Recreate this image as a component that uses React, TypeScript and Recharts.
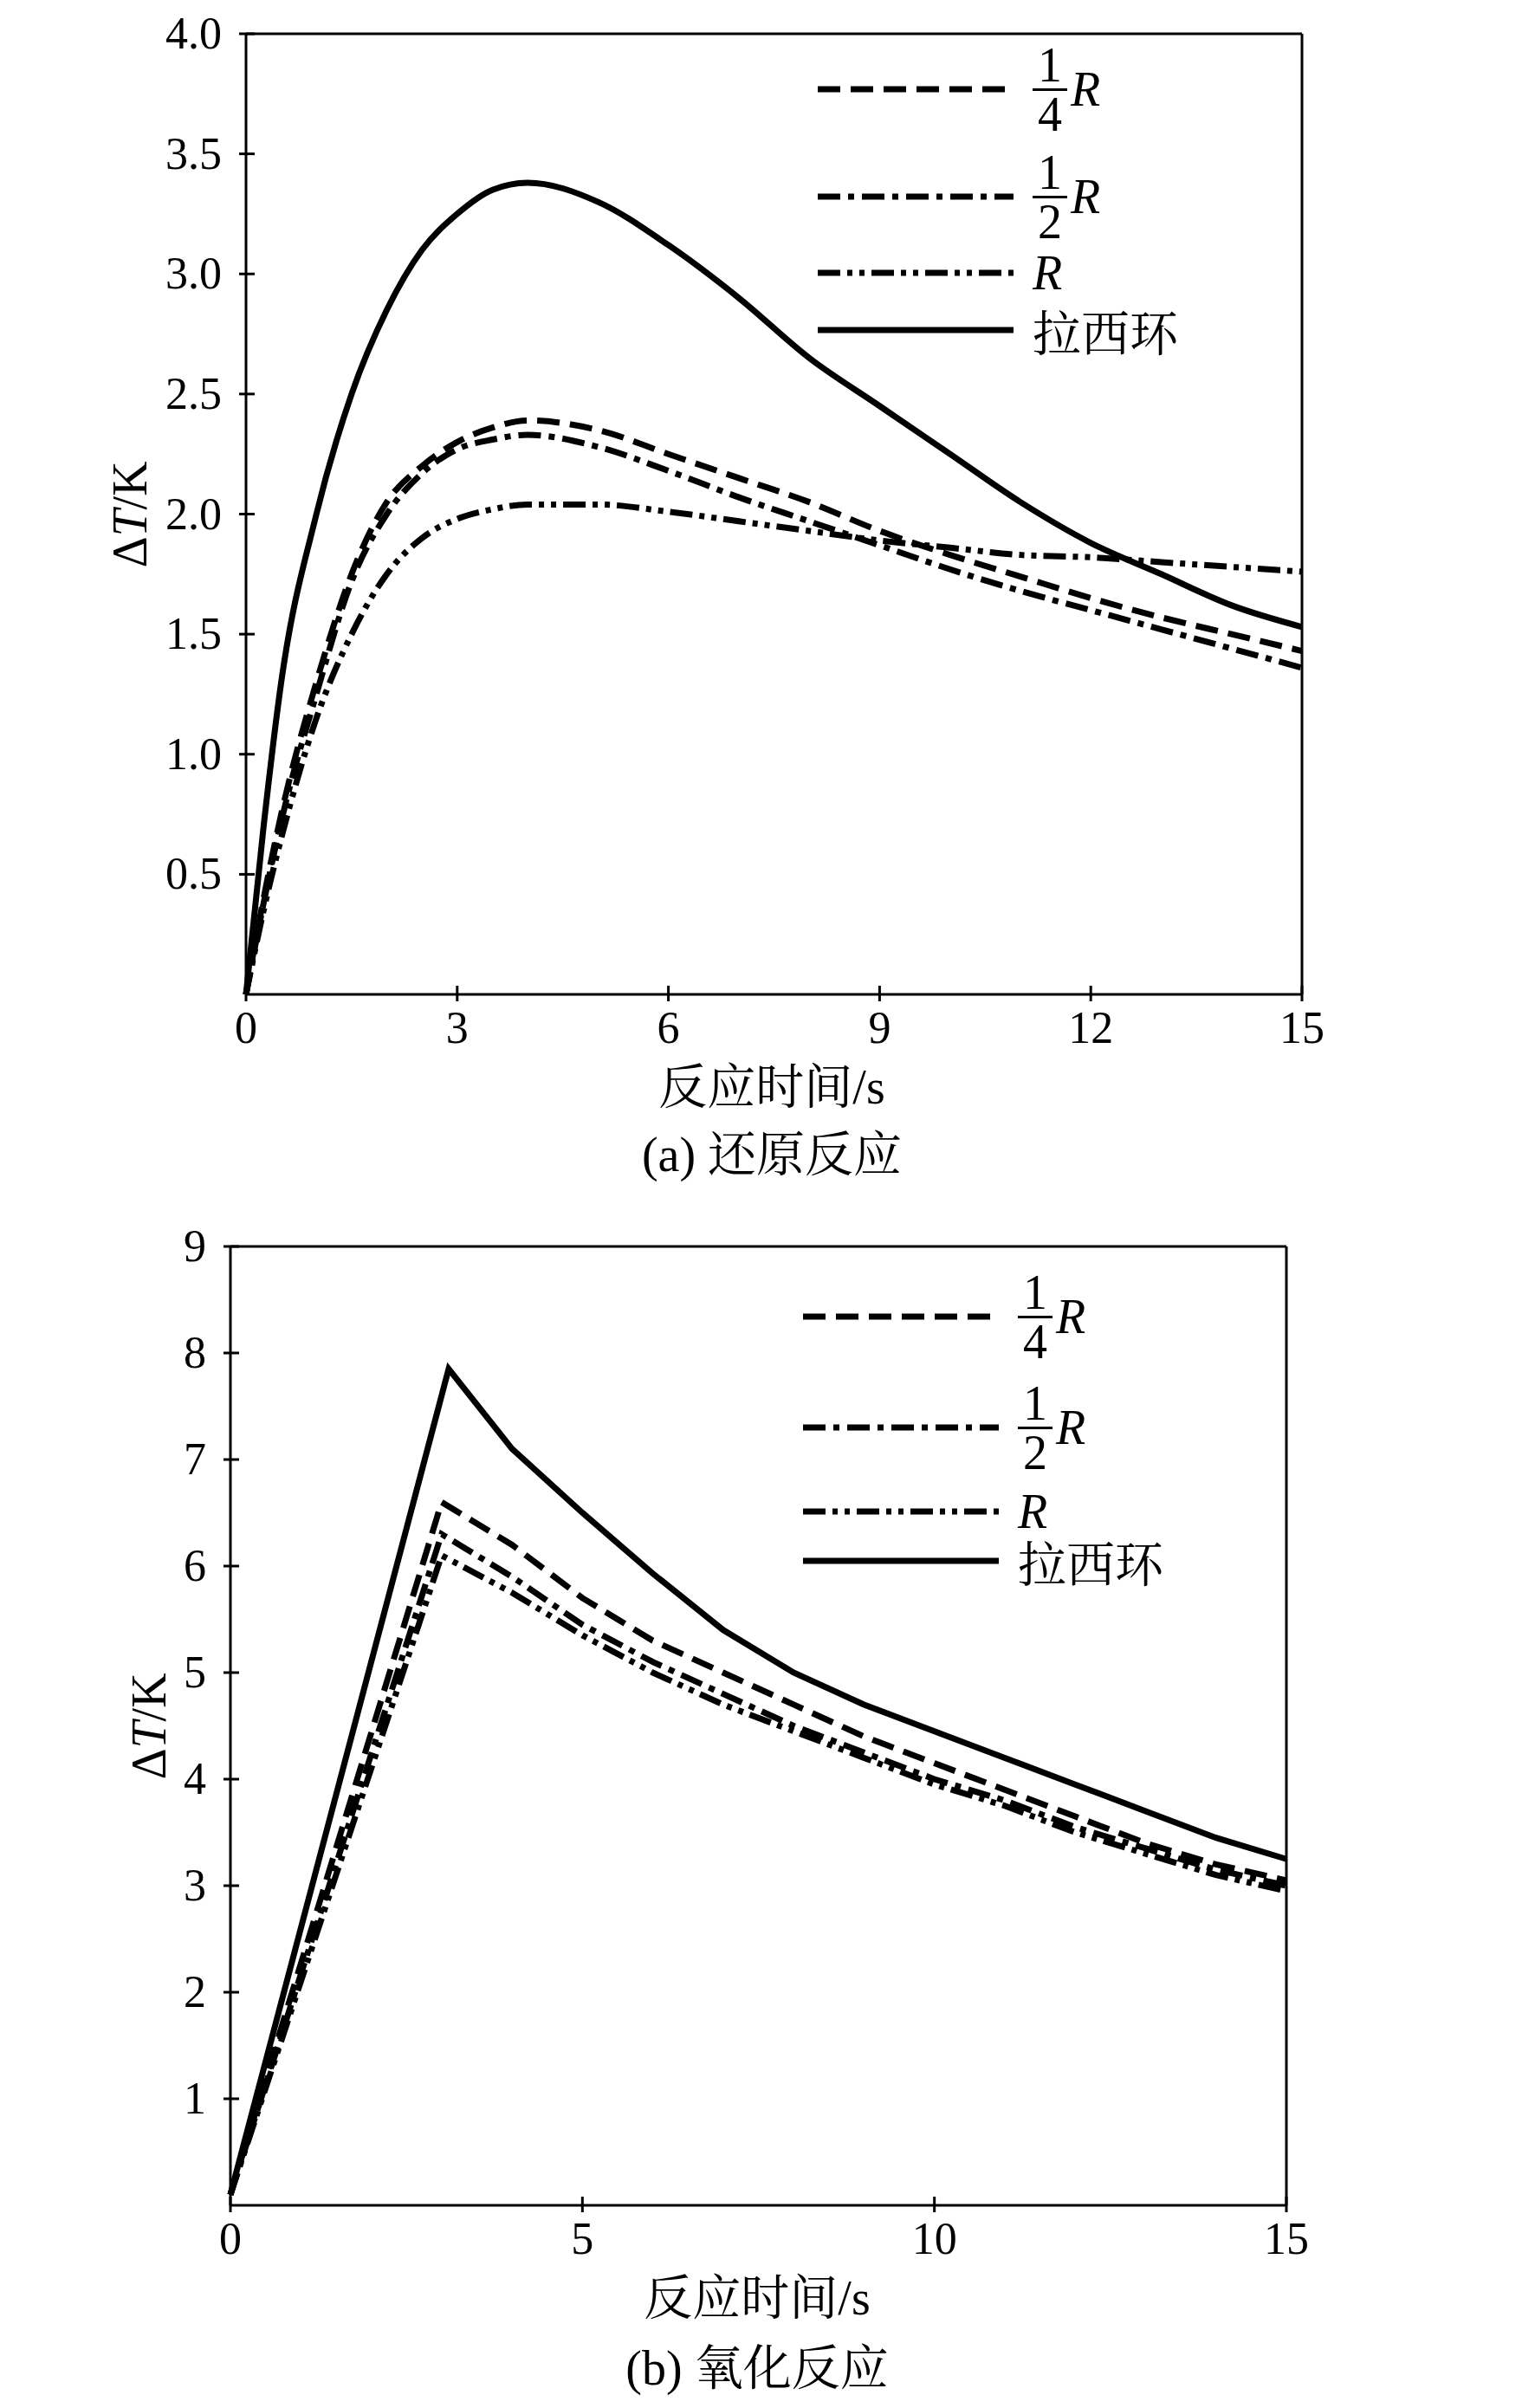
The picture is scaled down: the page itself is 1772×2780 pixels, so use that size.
import React from "react";
import { LineChart, Line, XAxis, YAxis } from "recharts";

const FONT = "'Liberation Serif', 'Times New Roman', serif";
const CJK = "'Liberation Serif', 'Noto Serif CJK SC', 'Noto Sans CJK SC', serif";

// (a) reduction
const xA = [0, 0.25, 0.5, 1, 1.5, 2, 2.5, 3, 3.5, 4, 5, 6, 7, 8, 9, 10, 11, 12, 13, 14, 15];
const aRaschig = [0, 0.7, 1.3, 2.0, 2.5, 2.85, 3.1, 3.25, 3.35, 3.38, 3.3, 3.12, 2.9, 2.65, 2.45, 2.25, 2.05, 1.88, 1.75, 1.62, 1.53];
const aQuarter = [0, 0.4, 0.75, 1.3, 1.75, 2.05, 2.2, 2.3, 2.36, 2.39, 2.35, 2.25, 2.15, 2.05, 1.93, 1.83, 1.74, 1.65, 1.57, 1.5, 1.43];
const aHalf = [0, 0.38, 0.72, 1.25, 1.72, 2.0, 2.17, 2.27, 2.31, 2.33, 2.28, 2.18, 2.07, 1.97, 1.87, 1.77, 1.68, 1.6, 1.52, 1.44, 1.36];
const aR = [0, 0.35, 0.65, 1.15, 1.5, 1.75, 1.9, 1.98, 2.02, 2.04, 2.04, 2.01, 1.97, 1.93, 1.89, 1.86, 1.83, 1.82, 1.8, 1.78, 1.76];
const xTicksA = [0, 3, 6, 9, 12, 15];
const yTicksA = [0.5, 1.0, 1.5, 2.0, 2.5, 3.0, 3.5, 4.0];

// (b) oxidation
const xB = [0, 3, 4, 5, 6, 7, 8, 9, 10, 11, 12, 13, 14, 15];
const xBSolid = [0, 3.1, 4, 5, 6, 7, 8, 9, 10, 11, 12, 13, 14, 15];
const bRaschig = [0.1, 7.85, 7.1, 6.5, 5.93, 5.4, 5.0, 4.7, 4.45, 4.2, 3.95, 3.7, 3.45, 3.25];
const bQuarter = [0.1, 6.6, 6.2, 5.7, 5.3, 5.0, 4.7, 4.4, 4.15, 3.9, 3.65, 3.4, 3.2, 3.05];
const bHalf = [0.1, 6.3, 5.9, 5.45, 5.1, 4.8, 4.5, 4.25, 4.0, 3.8, 3.55, 3.35, 3.15, 3.0];
const bR = [0.1, 6.1, 5.75, 5.35, 5.0, 4.7, 4.45, 4.2, 3.95, 3.75, 3.5, 3.3, 3.1, 2.95];
const xTicksB = [0, 5, 10, 15];
const yTicksB = [1, 2, 3, 4, 5, 6, 7, 8, 9];

const DASH = { quarter: "26 12", half: "26 9 7 9", r: "26 8 6 8 6 8", solid: undefined as any };
const SW = 7;

const mk = (xs: number[], ys: number[]) => xs.map((x, i) => ({ x, y: ys[i] }));

const XTick = (props: any) => {
  const { x, y, payload } = props;
  return (
    <g>
      <line x1={x} x2={x} y1={y} y2={y - 18} stroke="#000" strokeWidth={3} />
      <text x={x} y={y + 48} textAnchor="middle" fontSize={52} fontFamily={FONT} fill="#000">{payload.value}</text>
    </g>
  );
};
const YTick = (digits: number) => (props: any) => {
  const { x, y, payload } = props;
  return (
    <g>
      <line x1={x} x2={x + 18} y1={y} y2={y} stroke="#000" strokeWidth={3} />
      <text x={x - 20} y={y + 17} textAnchor="end" fontSize={52} fontFamily={FONT} fill="#000">{Number(payload.value).toFixed(digits)}</text>
    </g>
  );
};

const Frac = ({ d }: { d: string }) => (
  <span style={{ display: "inline-flex", alignItems: "center", fontFamily: FONT, fontSize: 56 }}>
    <span style={{ display: "inline-flex", flexDirection: "column", alignItems: "center", lineHeight: "54px" }}>
      <span>1</span>
      <span style={{ borderTop: "3px solid #000", width: 40, textAlign: "center" }}>{d}</span>
    </span>
    <i style={{ marginLeft: 4 }}>R</i>
  </span>
);

const LegendRow = ({ left, top, dash, children }: any) => (
  <div style={{ position: "absolute", left, top: top - 60, height: 120, display: "flex", alignItems: "center" }}>
    <svg width={226} height={20} style={{ marginRight: 22 }}>
      <line x1={0} x2={226} y1={10} y2={10} stroke="#000" strokeWidth={SW} strokeDasharray={dash} />
    </svg>
    {children}
  </div>
);

const Legend = ({ left, ys }: { left: number; ys: number[] }) => (
  <>
    <LegendRow left={left} top={ys[0]} dash={DASH.quarter}><Frac d="4" /></LegendRow>
    <LegendRow left={left} top={ys[1]} dash={DASH.half}><Frac d="2" /></LegendRow>
    <LegendRow left={left} top={ys[2]} dash={DASH.r}><i style={{ fontFamily: FONT, fontSize: 56 }}>R</i></LegendRow>
    <LegendRow left={left} top={ys[3]} dash={DASH.solid}><span style={{ fontFamily: CJK, fontSize: 56 }}>拉西环</span></LegendRow>
  </>
);

const Text = ({ x, y, children, rotate }: any) => (
  <div style={{ position: "absolute", left: x, top: y, transform: `translate(-50%,-50%)${rotate ? " rotate(-90deg)" : ""}`, fontFamily: CJK, fontSize: 56, whiteSpace: "nowrap", lineHeight: 1 }}>{children}</div>
);

const Chart = ({ W, H, m, series, xDomain, xTicks, yDomain, yTicks, digits, curve }: any) => (
  <LineChart width={W} height={H} margin={m}>
    <XAxis type="number" dataKey="x" xAxisId="b" domain={xDomain} ticks={xTicks} tick={<XTick />} tickLine={false} axisLine={{ stroke: "#000", strokeWidth: 3 }} height={1} allowDuplicatedCategory={false} />
    <XAxis type="number" dataKey="x" xAxisId="t" orientation="top" domain={xDomain} tick={false} tickLine={false} axisLine={{ stroke: "#000", strokeWidth: 3 }} height={1} />
    <YAxis type="number" yAxisId="l" domain={yDomain} ticks={yTicks} tick={YTick(digits)} tickLine={false} axisLine={{ stroke: "#000", strokeWidth: 3 }} width={1} />
    <YAxis type="number" yAxisId="r" orientation="right" domain={yDomain} tick={false} tickLine={false} axisLine={{ stroke: "#000", strokeWidth: 3 }} width={1} />
    {series.map((s: any, i: number) => (
      <Line key={i} xAxisId="b" yAxisId="l" data={s.data} dataKey="y" type={curve} stroke="#000" strokeWidth={SW} strokeDasharray={s.dash} dot={false} isAnimationActive={false} />
    ))}
  </LineChart>
);

export default function App() {
  const seriesA = [
    { data: mk(xA, aQuarter), dash: DASH.quarter },
    { data: mk(xA, aHalf), dash: DASH.half },
    { data: mk(xA, aR), dash: DASH.r },
    { data: mk(xA, aRaschig), dash: DASH.solid },
  ];
  const seriesB = [
    { data: mk(xB, bQuarter), dash: DASH.quarter },
    { data: mk(xB, bHalf), dash: DASH.half },
    { data: mk(xB, bR), dash: DASH.r },
    { data: mk(xBSolid, bRaschig), dash: DASH.solid },
  ];
  return (
    <div style={{ position: "absolute", left: 0, top: 0, width: 1772, height: 2780, background: "#fff" }}>
      <div style={{ position: "absolute", left: 0, top: 0 }}>
        <Chart W={1772} H={1400} m={{ left: 283, right: 268, top: 38, bottom: 251 }} series={seriesA} curve="monotone"
          xDomain={[0, 15]} xTicks={xTicksA} yDomain={[0, 4]} yTicks={yTicksA} digits={1} />
      </div>
      <div style={{ position: "absolute", left: 0, top: 1400 }}>
        <Chart W={1772} H={1380} m={{ left: 265, right: 286, top: 38, bottom: 233 }} series={seriesB} curve="linear"
          xDomain={[0, 15]} xTicks={xTicksB} yDomain={[0, 9]} yTicks={yTicksB} digits={0} />
      </div>
      <Legend left={944} ys={[103, 227, 315, 381]} />
      <Legend left={927} ys={[1520, 1648, 1745, 1802]} />
      <Text x={150} y={594} rotate><span style={{ fontFamily: FONT }}>Δ<i>T</i>/K</span></Text>
      <Text x={172} y={1993} rotate><span style={{ fontFamily: FONT }}>Δ<i>T</i>/K</span></Text>
      <Text x={891} y={1255}>反应时间/s</Text>
      <Text x={891} y={1333}>(a) 还原反应</Text>
      <Text x={874} y={2653}>反应时间/s</Text>
      <Text x={874} y={2734}>(b) 氧化反应</Text>
    </div>
  );
}
